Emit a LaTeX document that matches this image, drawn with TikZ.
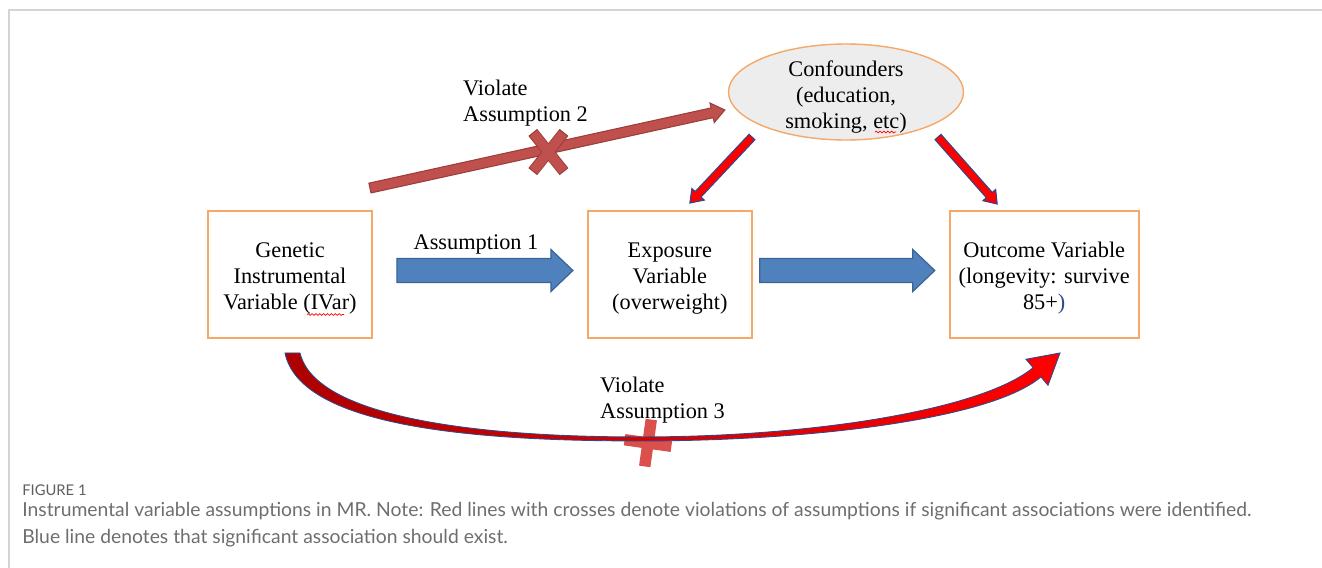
\documentclass[tikz,border=0pt]{standalone}
\usepackage{fontspec}
\setmainfont{Liberation Serif}
\newfontfamily\capfont{Lato}
\usetikzlibrary{positioning,calc,shapes.geometric,shapes.misc,decorations.pathmorphing}
\definecolor{boxline}{HTML}{F5A867}
\definecolor{confbg}{HTML}{EDEDED}
\definecolor{assblue}{HTML}{4F81BD}
\definecolor{assline}{HTML}{3B6496}
\definecolor{violred}{HTML}{C0504D}
\definecolor{violline}{HTML}{9A3E3B}
\definecolor{crossred}{HTML}{D9504C}
\definecolor{hotred}{HTML}{FF0000}
\definecolor{navyline}{HTML}{2E4A8C}
\definecolor{capgray}{HTML}{6E6E6E}
\definecolor{framegray}{HTML}{D4D4D4}

% block arrow: style, from, to, half shaft, half head, head length
\newcommand{\fatarrow}[6]{%
  \coordinate (fa-b) at ($(#3)!#6!(#2)$);
  \filldraw[#1] ($(#2)!#4!90:(#3)$) -- ($(fa-b)!#4!-90:(#2)$) -- ($(fa-b)!#5!-90:(#2)$) -- (#3)
    -- ($(fa-b)!#5!90:(#2)$) -- ($(fa-b)!#4!90:(#2)$) -- ($(#2)!#4!-90:(#3)$) -- cycle;}
% pushes a centred block of lines down a little
\newcommand{\topgap}[1]{\rule{0pt}{#1}}

\begin{document}
\begin{tikzpicture}[x=0.02cm,y=-0.02cm,font=\fontsize{12.7}{15}\selectfont,
  var/.style={draw=boxline,line width=1.1pt,fill=white,minimum height=2.54cm,
              minimum width=3.28cm,align=center,inner sep=0pt},
  captxt/.style={font=\capfont\fontsize{11}{15}\selectfont,text=capgray,anchor=base west,inner sep=0pt},
  xmark/.style={cross out,draw=violred,line width=5.4pt,minimum width=0.4cm,minimum height=0.56cm,inner sep=0pt},
  bluearr/.style={fill=assblue,draw=assline,line width=0.7pt},
  redarr/.style={fill=hotred,draw=navyline,line width=0.6pt},
  darkarr/.style={fill=violred,draw=violline,line width=0.6pt},
  spell/.style={red,line width=0.4pt,decorate,decoration={snake,amplitude=0.5pt,segment length=2.2pt}}]
  \useasboundingbox (0,0) rectangle (1322,568);
  \draw[framegray,line width=1.2pt] (9,568) -- (9,10) -- (1322,10);

  \node[var] (gen) at (290,274.5) {\topgap{0.46cm}Genetic\\Instrumental\\Variable (IVar)};
  \node[var,right=4.28cm of gen] (exp) {\topgap{0.46cm}Exposure\\Variable\\(overweight)};
  \node[var,minimum width=3.78cm,right=3.92cm of exp] (out)
    {\topgap{0.46cm}Outcome Variable\\(longevity: survive\\85+\textcolor{navyline}{)}};
  \node[ellipse,draw=boxline,line width=0.8pt,fill=confbg,minimum width=4.7cm,minimum height=1.92cm,
        inner sep=0pt] (conf) at (846,92) {};
  \node[align=center] (conftxt) at ($(conf.center)+(0,5)$) {Confounders\\(education,\\smoking, etc)};
  \draw[spell] ($(gen.center)+(17,40)$) -- ($(gen.center)+(54,40)$);
  \draw[spell] ($(conf.center)+(29,40)$) -- ($(conf.center)+(50,40)$);

  \coordinate (b1s) at ($(gen.east)+(24,-4)$);
  \coordinate (b1e) at ($(exp.west)+(-14,-4)$);
  \coordinate (b2s) at ($(exp.east)+(7,-4)$);
  \coordinate (b2e) at ($(out.west)+(-14,-4)$);
  \coordinate (a2s) at ($(gen.north east)+(-3,-22)$);
  \coordinate (a2e) at ($(conf.west)+(-3,18)$);
  \coordinate (r1s) at ($(conf.center)+(-94,45)$);
  \coordinate (r1e) at ($(exp.north)+(20,-7)$);
  \coordinate (r2s) at ($(conf.center)+(92,45)$);
  \coordinate (r2e) at ($(out.north)+(-47,-6)$);
  \coordinate (c3s) at ($(gen.south)+(2,14)$);

  \fatarrow{bluearr}{b1s}{b1e}{0.24cm}{0.42cm}{0.44cm}
  \fatarrow{bluearr}{b2s}{b2e}{0.24cm}{0.42cm}{0.44cm}
  \fatarrow{darkarr}{a2s}{a2e}{0.1cm}{0.2cm}{0.26cm}
  \fatarrow{redarr}{r1s}{r1e}{0.08cm}{0.17cm}{0.24cm}
  \fatarrow{redarr}{r2s}{r2e}{0.08cm}{0.17cm}{0.24cm}

  \node[xmark,draw=violline,line width=6.4pt] (x2o) at ($(a2s)!0.5!(a2e)+(1,3)$) {};
  \node[xmark] (x2) at ($(a2s)!0.5!(a2e)+(1,3)$) {};
  \node[cross out,draw=crossred,line width=6.5pt,minimum size=0.44cm,rotate=37] (x3) at (648,443) {};

  % curved violation arrow under the boxes
  \begin{scope}[shift={(c3s)}]
    \shadedraw[left color=red!68!black,right color=hotred,draw=navyline,line width=0.5pt]
      (-7,0) .. controls (8,73) and (178,88) .. (348,88) .. controls (520,88) and (700,66) .. (748.9,23.9)
      -- (756,32.3) -- (768,0) -- (734,6.3) -- (741.1,14.7)
      .. controls (690,57) and (520,84) .. (348,84) .. controls (178,84) and (23,63) .. (8,0) -- cycle;
  \end{scope}

  \node (a1) at (476,244) {Assumption 1};
  \node[anchor=west,align=left] (v2) at (457,103) {Violate\\Assumption 2};
  \node[anchor=west,align=left] (v3) at (594,400) {Violate\\Assumption 3};

  \node[captxt,font=\capfont\fontsize{8.4}{12}\selectfont,text=capgray!85!black] (fig) at (22,495) {FIGURE 1};
  \node[captxt] (capa) at (22,516) {Instrumental variable assumptions in MR. Note: Red lines with crosses denote violations of assumptions if significant associations were identified.};
  \node[captxt] (capb) at (22,543) {Blue line denotes that significant association should exist.};
\end{tikzpicture}
\end{document}
